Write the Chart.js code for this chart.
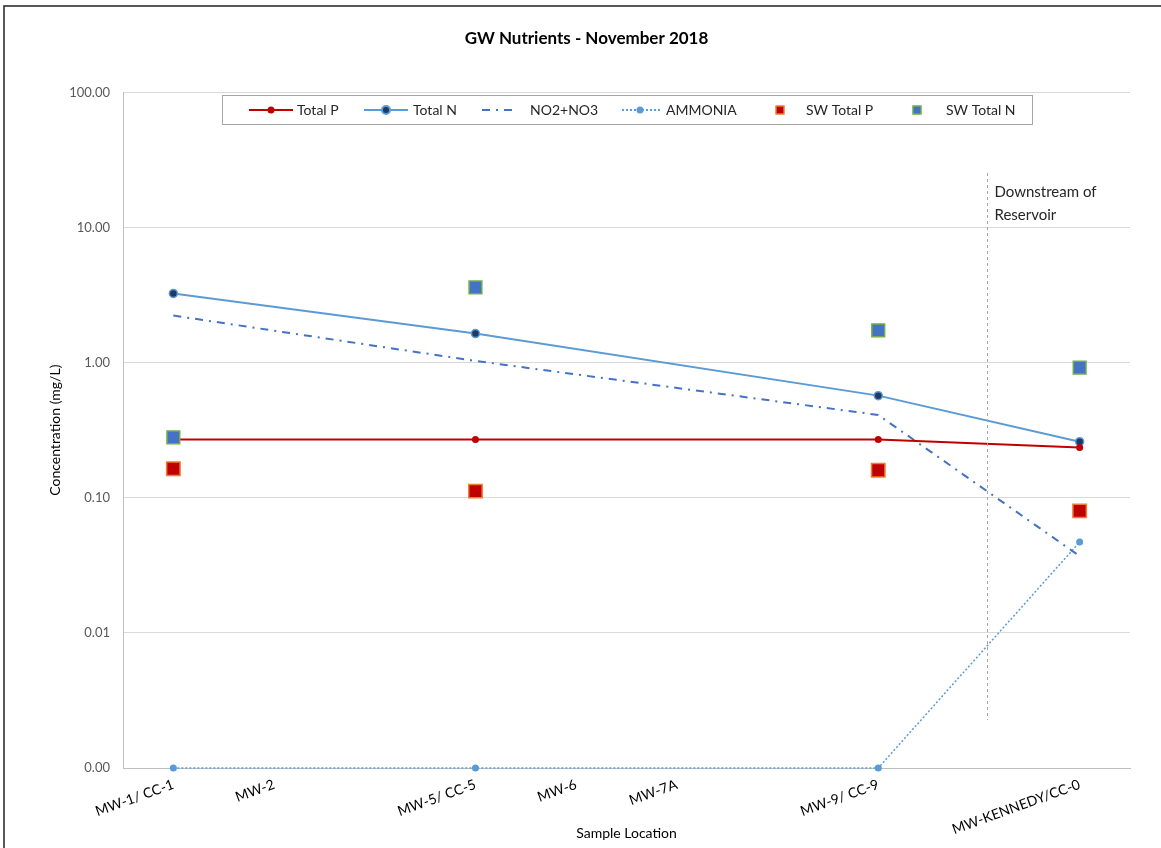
<!DOCTYPE html>
<html lang="en">
<head>
    <meta charset="UTF-8">
    <script src="https://cdn.jsdelivr.net/npm/chart.js"></script>
    <title>GW Nutrients</title>
    <style>
        body { margin: 0; background: #fff; }
        #wrap { position: relative; width: 1161px; height: 848px; }
    </style>
</head>
<body>
<div id="wrap"><canvas id="myChart" width="1161" height="848"></canvas></div>
<script>
    // 10 slots on the axis, some without a label
    const locations = ["MW-1/ CC-1", "MW-2", "", "MW-5/ CC-5", "MW-6", "MW-7A", "", "MW-9/ CC-9", "", "MW-KENNEDY/CC-0"];
    const totalP   = [0.27, null, null, 0.27, null, null, null, 0.27, null, 0.235];
    const totalN   = [3.25, null, null, 1.64, null, null, null, 0.57, null, 0.26];
    const no2no3   = [2.23, null, null, 1.03, null, null, null, 0.41, null, 0.037];
    const ammonia  = [0.001, null, null, 0.001, null, null, null, 0.001, null, 0.047];
    const swTotalP = [0.164, null, null, 0.112, null, null, null, 0.16, null, 0.08];
    const swTotalN = [0.28, null, null, 3.6, null, null, null, 1.73, null, 0.92];
    const yTicks   = [0.001, 0.01, 0.1, 1, 10, 100];

    const FONT = "Lato, 'Open Sans', sans-serif";

    // legend, divider line, note text and outer frame
    const extras = {
        id: 'extras',
        afterDraw(chart) {
            const c = chart.ctx;
            const x = chart.scales.x;
            c.save();
            // frame
            c.strokeStyle = '#222';
            c.lineWidth = 1.5;
            c.beginPath();
            c.moveTo(4, 848); c.lineTo(4, 6); c.lineTo(1161, 6);
            c.stroke();

            // downstream divider
            let vx = Math.round(x.getPixelForValue(8) + 8) + 0.5;
            c.strokeStyle = '#a6a6a6';
            c.lineWidth = 1;
            c.setLineDash([3, 3]);
            c.beginPath();
            c.moveTo(vx, 173); c.lineTo(vx, 720);
            c.stroke();
            c.setLineDash([]);
            c.fillStyle = '#262626';
            c.font = "15px " + FONT;
            c.textBaseline = 'middle';
            c.fillText("Downstream of", vx + 7, 192);
            c.fillText("Reservoir", vx + 7, 215);

            // legend box
            c.fillStyle = '#fff';
            c.fillRect(222, 95, 810, 29);
            c.strokeStyle = '#a6a6a6';
            c.strokeRect(222.5, 95.5, 810, 29);
            const ly = 110;
            c.font = "14px " + FONT;
            c.lineWidth = 2;
            // Total P
            c.strokeStyle = '#c00000';
            c.beginPath(); c.moveTo(249, ly); c.lineTo(293, ly); c.stroke();
            c.fillStyle = '#c00000';
            c.beginPath(); c.arc(271, ly, 3.5, 0, Math.PI * 2); c.fill();
            // Total N
            c.strokeStyle = '#5b9bd5';
            c.beginPath(); c.moveTo(364, ly); c.lineTo(408, ly); c.stroke();
            c.fillStyle = '#1f3864';
            c.beginPath(); c.arc(386, ly, 4, 0, Math.PI * 2); c.fill(); c.stroke();
            // NO2+NO3
            c.strokeStyle = '#4472c4';
            c.setLineDash([8, 6, 2, 6]);
            c.beginPath(); c.moveTo(482, ly); c.lineTo(518, ly); c.stroke();
            // AMMONIA
            c.strokeStyle = '#5b9bd5';
            c.setLineDash([2, 2]);
            c.beginPath(); c.moveTo(622, ly); c.lineTo(660, ly); c.stroke();
            c.setLineDash([]);
            c.fillStyle = '#5b9bd5';
            c.beginPath(); c.arc(640, ly, 3.5, 0, Math.PI * 2); c.fill();
            // SW squares
            c.lineWidth = 1.5;
            c.fillStyle = '#c00000'; c.strokeStyle = '#ed7d31';
            c.fillRect(776, ly - 4, 8, 8); c.strokeRect(776, ly - 4, 8, 8);
            c.fillStyle = '#4472c4'; c.strokeStyle = '#70ad47';
            c.fillRect(913, ly - 4, 8, 8); c.strokeRect(913, ly - 4, 8, 8);

            c.fillStyle = '#262626';
            c.fillText("Total P", 297, ly);
            c.fillText("Total N", 413, ly);
            c.fillText("NO2+NO3", 530, ly);
            c.fillText("AMMONIA", 666, ly);
            c.fillText("SW Total P", 806, ly);
            c.fillText("SW Total N", 946, ly);
            c.restore();
        }
    };

    let ctx = document.getElementById("myChart");
    let configs = {
        type: 'line',
        data: {
            labels: locations,
            datasets: [
                { label: 'Total P', data: totalP, borderColor: '#c00000', backgroundColor: '#c00000',
                  borderWidth: 2, pointRadius: 3.5, pointBorderWidth: 0, spanGaps: true, order: 2 },
                { label: 'Total N', data: totalN, borderColor: '#5b9bd5', backgroundColor: '#1f3864',
                  borderWidth: 2, pointRadius: 4, pointBorderWidth: 1.5, pointBorderColor: '#5b9bd5',
                  spanGaps: true, order: 2 },
                { label: 'NO2+NO3', data: no2no3, borderColor: '#4472c4', borderWidth: 2,
                  borderDash: [8, 6, 2, 6], pointRadius: 0, spanGaps: true, order: 2 },
                { label: 'AMMONIA', data: ammonia, borderColor: '#5b9bd5', backgroundColor: '#5b9bd5',
                  borderWidth: 1.5, borderDash: [2, 2], pointRadius: 3.5, pointBorderWidth: 0,
                  spanGaps: true, clip: false, order: 2 },
                // surface water samples sit on top of the lines
                { label: 'SW Total P', data: swTotalP, showLine: false, pointStyle: 'rect', order: 1,
                  pointRadius: 9.5, backgroundColor: '#c00000', borderColor: '#ed7d31', pointBorderWidth: 1.5 },
                { label: 'SW Total N', data: swTotalN, showLine: false, pointStyle: 'rect', order: 1,
                  pointRadius: 9, backgroundColor: '#4472c4', borderColor: '#70ad47', pointBorderWidth: 1.5 }
            ]
        },
        options: {
            responsive: false,
            animation: false,
            layout: { padding: { left: 43, right: 31, top: 0, bottom: 6 } },
            plugins: {
                legend: { display: false },
                tooltip: { enabled: false },
                title: {
                    display: true, text: 'GW Nutrients - November 2018', color: '#000',
                    font: { family: FONT, size: 17, weight: 'bold' },
                    padding: { top: 28, bottom: 44 }
                }
            },
            scales: {
                x: {
                    offset: true,
                    grid: { display: false, drawTicks: false },
                    border: { color: '#bfbfbf' },
                    ticks: { autoSkip: false, minRotation: 20, maxRotation: 20, padding: 8,
                             color: '#000', font: { family: FONT, size: 14 } },
                    title: { display: true, text: 'Sample Location', color: '#000',
                             font: { family: FONT, size: 14 }, padding: { top: 0, bottom: 0 } },
                    afterFit(s) { s.height = 74; }
                },
                y: {
                    type: 'logarithmic', min: 0.001, max: 100,
                    grid: { color: '#d9d9d9', drawTicks: false },
                    border: { color: '#bfbfbf' },
                    afterBuildTicks(s) { s.ticks = yTicks.map(v => ({ value: v })); },
                    ticks: { padding: 13, color: '#595959', font: { family: FONT, size: 13 },
                             callback: v => Number(v).toFixed(2) },
                    title: { display: true, text: 'Concentration (mg/L)', color: '#000',
                             font: { family: FONT, size: 14 }, padding: { bottom: 6 } },
                    afterFit(s) { s.width = 80; }
                }
            }
        },
        plugins: [extras]
    };
    let myChart = new Chart(ctx, configs);
</script>
</body>
</html>
